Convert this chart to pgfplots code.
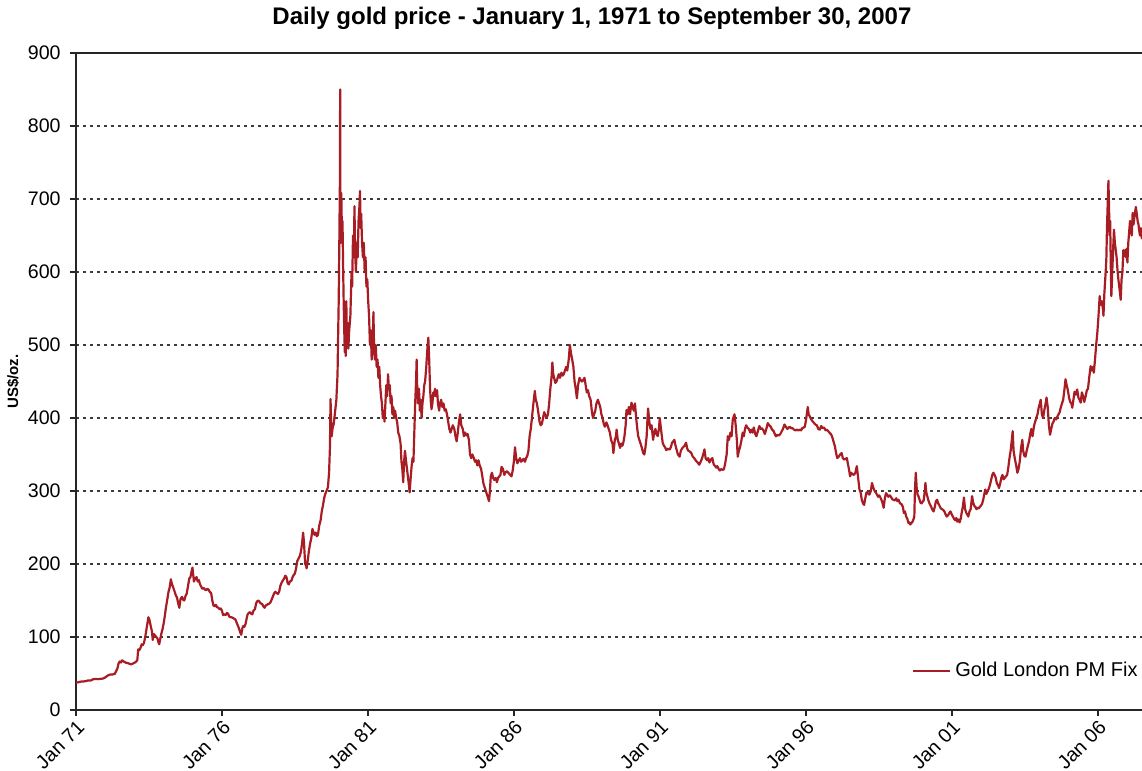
\documentclass[border=0pt]{standalone}
\usepackage{fontspec}
\setmainfont{Liberation Sans}
\usepackage{pgfplots}
\pgfplotsset{compat=1.18}
\usepackage{pgfplotstable}

\definecolor{goldline}{RGB}{168,28,36}
\definecolor{gridgray}{RGB}{60,60,60}

% daily gold price at roughly two-week steps
\pgfplotstableread{
x y
1971.00 37.4
1971.08 38.0
1971.17 38.9
1971.25 39.0
1971.33 39.5
1971.42 40.5
1971.50 40.2
1971.58 42.0
1971.67 42.5
1971.75 42.2
1971.83 42.6
1971.92 43.0
1972.00 44.5
1972.08 47.0
1972.17 48.5
1972.25 48.6
1972.33 49.5
1972.42 57.0
1972.46 64.0
1972.50 66.5
1972.54 65.0
1972.58 68.0
1972.63 66.5
1972.71 64.8
1972.79 64.0
1972.88 62.5
1972.96 63.8
1973.04 65.5
1973.10 68.0
1973.13 83.0
1973.17 82.0
1973.21 85.0
1973.25 90.0
1973.29 89.0
1973.33 92.0
1973.38 102.0
1973.42 112.0
1973.46 122.0
1973.48 127.0
1973.52 123.0
1973.56 115.0
1973.60 108.0
1973.63 96.0
1973.67 104.0
1973.71 102.0
1973.75 100.0
1973.79 98.0
1973.83 92.0
1973.85 90.0
1973.88 96.0
1973.92 104.0
1973.96 110.0
1974.00 118.0
1974.04 128.0
1974.08 140.0
1974.13 152.0
1974.17 162.0
1974.21 168.0
1974.25 179.0
1974.29 172.0
1974.33 168.0
1974.38 162.0
1974.42 157.0
1974.46 154.0
1974.50 146.0
1974.54 140.0
1974.58 152.0
1974.63 155.0
1974.67 151.0
1974.71 150.0
1974.75 156.0
1974.79 159.0
1974.83 168.0
1974.88 180.0
1974.92 182.0
1974.96 190.0
1974.99 195.0
1975.04 176.0
1975.08 180.0
1975.13 182.0
1975.17 176.0
1975.21 178.0
1975.25 172.0
1975.29 169.0
1975.33 166.0
1975.38 167.0
1975.42 165.0
1975.46 164.0
1975.50 166.0
1975.54 165.0
1975.58 162.0
1975.63 160.0
1975.67 150.0
1975.71 143.0
1975.75 142.0
1975.79 144.0
1975.83 141.0
1975.88 140.0
1975.92 138.0
1975.96 139.0
1976.00 136.0
1976.04 130.0
1976.08 131.0
1976.13 130.0
1976.17 133.0
1976.21 132.0
1976.25 128.0
1976.29 127.0
1976.33 127.0
1976.38 126.0
1976.42 125.0
1976.46 124.0
1976.50 120.0
1976.54 116.0
1976.58 112.0
1976.63 106.0
1976.66 103.0
1976.70 112.0
1976.73 115.0
1976.77 114.0
1976.81 118.0
1976.85 126.0
1976.88 131.0
1976.92 133.0
1976.96 134.0
1977.00 132.0
1977.04 131.0
1977.08 136.0
1977.13 138.0
1977.17 146.0
1977.21 149.0
1977.25 150.0
1977.29 148.0
1977.33 146.0
1977.38 145.0
1977.42 142.0
1977.46 140.0
1977.50 143.0
1977.54 144.0
1977.58 145.0
1977.63 146.0
1977.67 148.0
1977.71 152.0
1977.75 156.0
1977.79 160.0
1977.83 162.0
1977.88 160.0
1977.92 159.0
1977.96 162.0
1978.00 170.0
1978.04 174.0
1978.08 177.0
1978.13 180.0
1978.17 184.0
1978.21 182.0
1978.25 174.0
1978.29 172.0
1978.33 176.0
1978.38 177.0
1978.42 182.0
1978.46 185.0
1978.50 187.0
1978.54 194.0
1978.58 204.0
1978.63 208.0
1978.67 211.0
1978.71 218.0
1978.75 230.0
1978.78 243.0
1978.81 230.0
1978.85 200.0
1978.88 198.0
1978.90 194.0
1978.94 205.0
1978.98 218.0
1979.02 228.0
1979.06 235.0
1979.10 248.0
1979.13 244.0
1979.17 240.0
1979.21 243.0
1979.25 238.0
1979.29 240.0
1979.33 252.0
1979.38 260.0
1979.42 272.0
1979.46 280.0
1979.50 290.0
1979.54 296.0
1979.58 300.0
1979.63 305.0
1979.67 325.0
1979.70 360.0
1979.72 426.0
1979.74 395.0
1979.76 375.0
1979.79 386.0
1979.83 392.0
1979.88 410.0
1979.92 425.0
1979.96 460.0
1979.98 512.0
1980.00 560.0
1980.02 635.0
1980.04 720.0
1980.05 850.0
1980.055 700.0
1980.07 640.0
1980.09 708.0
1980.11 650.0
1980.13 670.0
1980.15 610.0
1980.17 560.0
1980.19 520.0
1980.21 490.0
1980.22 540.0
1980.24 485.0
1980.26 560.0
1980.28 510.0
1980.31 530.0
1980.33 495.0
1980.36 520.0
1980.40 540.0
1980.44 600.0
1980.46 580.0
1980.49 650.0
1980.52 620.0
1980.54 690.0
1980.56 630.0
1980.59 600.0
1980.62 640.0
1980.65 620.0
1980.68 670.0
1980.71 690.0
1980.73 711.0
1980.75 660.0
1980.77 680.0
1980.80 640.0
1980.83 620.0
1980.86 640.0
1980.89 600.0
1980.92 620.0
1980.95 580.0
1980.98 590.0
1981.01 560.0
1981.04 540.0
1981.07 500.0
1981.10 520.0
1981.13 480.0
1981.16 500.0
1981.19 545.0
1981.21 500.0
1981.24 480.0
1981.27 500.0
1981.30 470.0
1981.33 480.0
1981.36 455.0
1981.39 470.0
1981.42 445.0
1981.45 430.0
1981.48 420.0
1981.51 400.0
1981.54 410.0
1981.57 395.0
1981.60 420.0
1981.63 445.0
1981.66 430.0
1981.69 460.0
1981.72 440.0
1981.75 445.0
1981.78 420.0
1981.81 430.0
1981.84 405.0
1981.87 415.0
1981.90 400.0
1981.93 410.0
1981.97 400.0
1982.00 395.0
1982.04 380.0
1982.08 375.0
1982.12 365.0
1982.15 340.0
1982.18 330.0
1982.21 312.0
1982.24 340.0
1982.27 355.0
1982.31 340.0
1982.34 330.0
1982.37 320.0
1982.40 310.0
1982.43 298.0
1982.46 315.0
1982.50 335.0
1982.53 345.0
1982.56 340.0
1982.59 380.0
1982.62 420.0
1982.65 450.0
1982.67 480.0
1982.69 440.0
1982.72 420.0
1982.75 440.0
1982.78 410.0
1982.81 425.0
1982.84 400.0
1982.87 420.0
1982.90 430.0
1982.93 445.0
1982.96 450.0
1983.00 470.0
1983.03 490.0
1983.07 510.0
1983.10 480.0
1983.13 440.0
1983.16 420.0
1983.18 412.0
1983.21 420.0
1983.24 435.0
1983.27 430.0
1983.30 440.0
1983.33 430.0
1983.37 438.0
1983.40 420.0
1983.44 410.0
1983.47 420.0
1983.51 425.0
1983.55 415.0
1983.59 420.0
1983.63 410.0
1983.67 412.0
1983.71 405.0
1983.75 395.0
1983.79 385.0
1983.83 380.0
1983.87 385.0
1983.91 390.0
1983.96 385.0
1984.00 375.0
1984.04 368.0
1984.08 380.0
1984.12 395.0
1984.16 405.0
1984.20 390.0
1984.25 385.0
1984.29 375.0
1984.33 380.0
1984.38 376.0
1984.42 378.0
1984.46 370.0
1984.50 350.0
1984.54 345.0
1984.58 350.0
1984.63 345.0
1984.67 340.0
1984.71 342.0
1984.75 335.0
1984.79 342.0
1984.83 335.0
1984.88 330.0
1984.92 320.0
1984.96 310.0
1985.00 305.0
1985.04 300.0
1985.08 295.0
1985.12 290.0
1985.15 286.0
1985.18 300.0
1985.21 320.0
1985.25 325.0
1985.29 318.0
1985.33 315.0
1985.38 318.0
1985.42 312.0
1985.46 318.0
1985.50 320.0
1985.54 322.0
1985.58 333.0
1985.63 330.0
1985.67 322.0
1985.71 325.0
1985.75 327.0
1985.79 326.0
1985.83 324.0
1985.88 322.0
1985.92 320.0
1985.96 328.0
1986.00 340.0
1986.04 360.0
1986.08 345.0
1986.12 338.0
1986.17 342.0
1986.21 345.0
1986.25 340.0
1986.29 342.0
1986.33 344.0
1986.38 340.0
1986.42 345.0
1986.46 348.0
1986.50 355.0
1986.54 375.0
1986.58 385.0
1986.62 400.0
1986.67 420.0
1986.72 437.0
1986.75 425.0
1986.79 420.0
1986.83 410.0
1986.88 395.0
1986.92 390.0
1986.96 392.0
1987.00 400.0
1987.04 408.0
1987.08 404.0
1987.12 400.0
1987.17 405.0
1987.21 420.0
1987.25 440.0
1987.29 455.0
1987.32 476.0
1987.35 460.0
1987.38 455.0
1987.42 448.0
1987.46 450.0
1987.50 455.0
1987.54 460.0
1987.58 455.0
1987.63 462.0
1987.67 458.0
1987.71 460.0
1987.75 465.0
1987.79 470.0
1987.83 465.0
1987.88 480.0
1987.92 500.0
1987.96 488.0
1988.00 480.0
1988.04 470.0
1988.08 450.0
1988.12 440.0
1988.16 427.0
1988.20 445.0
1988.25 455.0
1988.29 452.0
1988.33 450.0
1988.38 452.0
1988.42 455.0
1988.46 445.0
1988.50 435.0
1988.54 438.0
1988.58 430.0
1988.63 425.0
1988.67 410.0
1988.71 400.0
1988.75 405.0
1988.79 410.0
1988.83 420.0
1988.88 425.0
1988.92 420.0
1988.96 415.0
1989.00 405.0
1989.04 400.0
1989.08 392.0
1989.12 388.0
1989.17 394.0
1989.21 390.0
1989.25 385.0
1989.29 380.0
1989.33 370.0
1989.38 365.0
1989.41 352.0
1989.46 370.0
1989.50 375.0
1989.52 384.0
1989.56 370.0
1989.60 365.0
1989.64 359.0
1989.68 365.0
1989.72 362.0
1989.75 366.0
1989.79 375.0
1989.83 390.0
1989.86 411.0
1989.90 405.0
1989.94 415.0
1989.98 405.0
1990.03 421.0
1990.07 415.0
1990.11 410.0
1990.15 420.0
1990.19 400.0
1990.23 385.0
1990.26 375.0
1990.30 370.0
1990.34 365.0
1990.38 360.0
1990.43 352.0
1990.47 350.0
1990.51 360.0
1990.55 375.0
1990.58 400.0
1990.60 413.0
1990.64 395.0
1990.68 385.0
1990.72 390.0
1990.77 370.0
1990.81 380.0
1990.85 385.0
1990.89 378.0
1990.93 375.0
1990.97 385.0
1991.00 400.0
1991.04 385.0
1991.08 372.0
1991.10 366.0
1991.14 362.0
1991.18 360.0
1991.22 356.0
1991.26 358.0
1991.30 357.0
1991.34 357.0
1991.38 360.0
1991.42 366.0
1991.46 368.0
1991.50 370.0
1991.54 362.0
1991.58 356.0
1991.62 350.0
1991.68 347.0
1991.72 355.0
1991.76 358.0
1991.80 360.0
1991.85 362.0
1991.90 366.0
1991.94 358.0
1991.98 355.0
1992.03 354.0
1992.08 352.0
1992.13 347.0
1992.18 345.0
1992.23 342.0
1992.27 340.0
1992.30 339.0
1992.35 336.0
1992.40 340.0
1992.45 345.0
1992.50 352.0
1992.53 357.0
1992.57 345.0
1992.62 342.0
1992.66 345.0
1992.70 339.0
1992.75 343.0
1992.80 345.0
1992.85 336.0
1992.90 334.0
1992.93 332.0
1992.97 334.0
1993.02 330.0
1993.06 328.0
1993.10 330.0
1993.16 329.0
1993.20 330.0
1993.25 340.0
1993.29 350.0
1993.33 375.0
1993.37 370.0
1993.42 380.0
1993.46 375.0
1993.50 398.0
1993.56 405.0
1993.60 390.0
1993.64 370.0
1993.67 347.0
1993.71 355.0
1993.75 360.0
1993.80 370.0
1993.84 380.0
1993.88 375.0
1993.92 385.0
1993.96 390.0
1994.00 387.0
1994.05 385.0
1994.10 380.0
1994.14 384.0
1994.18 380.0
1994.22 387.0
1994.27 378.0
1994.31 375.0
1994.36 382.0
1994.41 389.0
1994.46 385.0
1994.50 386.0
1994.55 383.0
1994.60 378.0
1994.65 385.0
1994.70 393.0
1994.75 390.0
1994.80 388.0
1994.85 384.0
1994.90 382.0
1994.94 378.0
1994.98 375.0
1995.03 377.0
1995.08 376.0
1995.13 378.0
1995.18 382.0
1995.22 385.0
1995.27 391.0
1995.32 388.0
1995.37 385.0
1995.42 387.0
1995.46 388.0
1995.50 386.0
1995.55 386.0
1995.60 384.0
1995.65 383.0
1995.70 384.0
1995.75 383.0
1995.80 384.0
1995.84 383.0
1995.88 386.0
1995.93 387.0
1995.97 388.0
1996.02 400.0
1996.07 415.0
1996.10 405.0
1996.14 402.0
1996.19 398.0
1996.24 395.0
1996.29 393.0
1996.33 391.0
1996.38 390.0
1996.43 385.0
1996.48 384.0
1996.53 389.0
1996.58 386.0
1996.63 387.0
1996.68 383.0
1996.72 384.0
1996.77 382.0
1996.81 380.0
1996.86 378.0
1996.90 375.0
1996.95 368.0
1997.00 361.0
1997.04 352.0
1997.08 345.0
1997.13 347.0
1997.18 350.0
1997.23 352.0
1997.27 345.0
1997.32 343.0
1997.36 344.0
1997.41 345.0
1997.44 338.0
1997.48 330.0
1997.52 320.0
1997.56 325.0
1997.60 323.0
1997.65 322.0
1997.70 325.0
1997.75 334.0
1997.79 320.0
1997.84 302.0
1997.88 298.0
1997.92 288.0
1997.96 283.0
1998.00 281.0
1998.04 290.0
1998.08 298.0
1998.13 297.0
1998.18 295.0
1998.23 300.0
1998.27 311.0
1998.31 305.0
1998.36 300.0
1998.40 298.0
1998.44 295.0
1998.48 292.0
1998.52 294.0
1998.57 290.0
1998.62 285.0
1998.67 277.0
1998.71 290.0
1998.75 297.0
1998.79 295.0
1998.83 292.0
1998.88 294.0
1998.92 292.0
1998.96 289.0
1999.00 288.0
1999.05 287.0
1999.10 290.0
1999.14 286.0
1999.18 288.0
1999.23 283.0
1999.28 282.0
1999.33 278.0
1999.36 270.0
1999.40 272.0
1999.44 265.0
1999.48 262.0
1999.52 256.0
1999.55 257.0
1999.58 254.0
1999.62 256.0
1999.66 258.0
1999.69 261.0
1999.72 265.0
1999.74 300.0
1999.77 325.0
1999.80 305.0
1999.83 295.0
1999.86 293.0
1999.90 288.0
1999.93 284.0
1999.97 283.0
2000.00 285.0
2000.04 287.0
2000.08 300.0
2000.10 311.0
2000.13 298.0
2000.17 292.0
2000.21 286.0
2000.25 282.0
2000.29 279.0
2000.33 275.0
2000.38 272.0
2000.42 278.0
2000.46 286.0
2000.50 288.0
2000.54 283.0
2000.58 280.0
2000.63 276.0
2000.67 275.0
2000.71 274.0
2000.75 272.0
2000.79 268.0
2000.83 265.0
2000.88 267.0
2000.92 270.0
2000.96 272.0
2001.00 268.0
2001.04 265.0
2001.08 262.0
2001.12 260.0
2001.16 263.0
2001.19 258.0
2001.23 261.0
2001.27 257.0
2001.31 262.0
2001.35 272.0
2001.38 278.0
2001.42 291.0
2001.46 275.0
2001.50 270.0
2001.53 268.0
2001.57 265.0
2001.61 272.0
2001.65 275.0
2001.70 293.0
2001.73 285.0
2001.77 280.0
2001.81 278.0
2001.85 275.0
2001.87 277.0
2001.92 276.0
2001.96 278.0
2002.00 280.0
2002.04 282.0
2002.08 288.0
2002.12 296.0
2002.15 302.0
2002.19 296.0
2002.23 300.0
2002.27 303.0
2002.31 308.0
2002.35 315.0
2002.39 322.0
2002.43 325.0
2002.47 322.0
2002.51 318.0
2002.55 310.0
2002.59 308.0
2002.62 304.0
2002.66 310.0
2002.70 318.0
2002.74 322.0
2002.78 316.0
2002.82 318.0
2002.86 320.0
2002.90 322.0
2002.94 332.0
2002.98 345.0
2003.02 355.0
2003.06 370.0
2003.09 382.0
2003.12 355.0
2003.16 345.0
2003.21 335.0
2003.25 325.0
2003.29 330.0
2003.33 340.0
2003.38 360.0
2003.42 370.0
2003.45 355.0
2003.49 348.0
2003.53 347.0
2003.57 355.0
2003.61 362.0
2003.65 368.0
2003.69 378.0
2003.73 385.0
2003.77 375.0
2003.82 389.0
2003.86 395.0
2003.90 400.0
2003.94 405.0
2003.98 414.0
2004.02 420.0
2004.05 425.0
2004.09 405.0
2004.13 400.0
2004.17 410.0
2004.21 418.0
2004.25 428.0
2004.29 415.0
2004.33 390.0
2004.37 377.0
2004.41 385.0
2004.45 392.0
2004.49 395.0
2004.53 400.0
2004.58 398.0
2004.62 402.0
2004.66 405.0
2004.70 408.0
2004.74 415.0
2004.78 420.0
2004.82 425.0
2004.86 438.0
2004.90 453.0
2004.94 445.0
2004.98 438.0
2005.02 428.0
2005.06 422.0
2005.10 420.0
2005.13 414.0
2005.17 425.0
2005.21 436.0
2005.25 432.0
2005.30 439.0
2005.34 428.0
2005.38 425.0
2005.42 421.0
2005.46 435.0
2005.50 430.0
2005.54 422.0
2005.59 430.0
2005.63 438.0
2005.67 440.0
2005.71 455.0
2005.76 471.0
2005.80 465.0
2005.84 470.0
2005.87 462.0
2005.91 480.0
2005.95 500.0
2005.99 517.0
2006.03 540.0
2006.07 567.0
2006.10 555.0
2006.14 560.0
2006.18 550.0
2006.20 540.0
2006.23 570.0
2006.26 590.0
2006.28 603.0
2006.30 620.0
2006.32 660.0
2006.35 700.0
2006.37 725.0
2006.39 690.0
2006.41 650.0
2006.43 670.0
2006.45 610.0
2006.47 567.0
2006.50 600.0
2006.53 630.0
2006.56 658.0
2006.59 640.0
2006.62 630.0
2006.65 620.0
2006.68 603.0
2006.71 590.0
2006.74 580.0
2006.77 570.0
2006.79 562.0
2006.82 590.0
2006.85 600.0
2006.88 630.0
2006.91 622.0
2006.94 630.0
2006.97 620.0
2007.00 632.0
2007.02 613.0
2007.05 640.0
2007.08 655.0
2007.11 670.0
2007.14 660.0
2007.17 650.0
2007.20 681.0
2007.23 665.0
2007.26 675.0
2007.29 684.0
2007.31 689.0
2007.34 680.0
2007.37 670.0
2007.40 665.0
2007.42 658.0
2007.45 650.0
2007.48 660.0
2007.50 652.0
2007.52 645.0
}\goldtable

\begin{document}
\begin{tikzpicture}
\begin{axis}[
  name=ax,
  width=533pt, height=328.5pt,
  scale only axis,
  clip mode=individual,
  xmin=1971, xmax=2007.52,
  ymin=0, ymax=900,
  axis x line*=box, axis y line*=left,
  axis line style={line width=1pt, black!85},
  xtick={1971,1976,1981,1986,1991,1996,2001,2006},
  xticklabels={Jan 71,Jan 76,Jan 81,Jan 86,Jan 91,Jan 96,Jan 01,Jan 06},
  ytick={0,100,...,900},
  xtick pos=bottom, ytick pos=left,
  tick align=outside,
  major tick length=3pt,
  tick style={line width=1pt, black!85},
  ymajorgrids,
  major grid style={gridgray, line width=0.7pt, dash pattern=on 1.5pt off 2pt},
  /pgf/number format/assume math mode=true,
  tick label style={font=\fontsize{9.8}{11}\selectfont},
  xticklabel style={rotate=45, anchor=north east, inner sep=1pt},
  yticklabel style={inner sep=4.5pt},
  title={Daily gold price - January 1, 1971 to September 30, 2007},
  title style={at={(0.484,1)}, anchor=base, yshift=8pt,
    font=\bfseries\fontsize{12}{14}\selectfont},
  legend style={draw=none, fill=none, at={(1,0.059)}, anchor=east,
    inner sep=0pt, font=\fontsize{10}{12}\selectfont},
  legend cell align=left,
  legend image code/.code={\draw[#1] (0pt,0pt) -- (18.5pt,0pt);},
]
\addplot[goldline, line width=1.1pt, line join=round] table[x=x, y=y] {\goldtable};
\addlegendentry{Gold London PM Fix}
\node[rotate=90, font=\bfseries\fontsize{7.5}{9}\selectfont]
  at ([xshift=-31.5pt]rel axis cs:0,0.5) {US\$/oz.};
\end{axis}
\pgfresetboundingbox
\path[use as bounding box] ([xshift=-38pt,yshift=-30.5pt]ax.south west)
  rectangle ([yshift=26.5pt]ax.north east);
\end{tikzpicture}
\end{document}
